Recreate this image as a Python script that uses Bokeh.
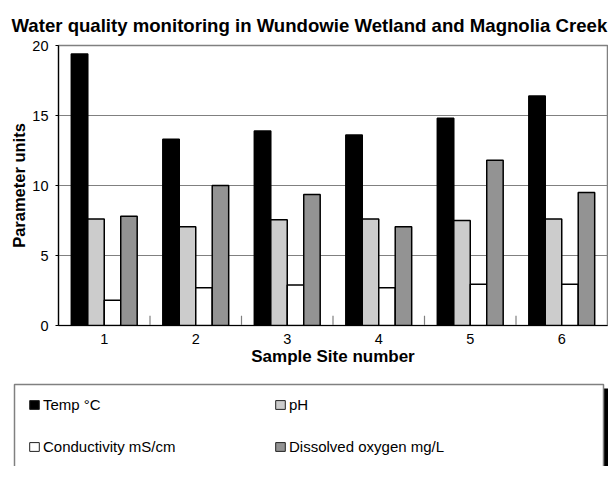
from bokeh.plotting import figure
from bokeh.models import (FactorRange, Range1d, FixedTicker, ColumnDataSource,
                          Legend, LegendItem)
from bokeh.transform import dodge
from bokeh.layouts import column, row
from bokeh.embed import file_html
from bokeh.resources import INLINE

# ---- data ----
sites = ["1", "2", "3", "4", "5", "6"]
temp = [19.4, 13.3, 13.9, 13.6, 14.8, 16.4]
ph = [7.6, 7.05, 7.55, 7.6, 7.5, 7.6]
cond = [1.8, 2.7, 2.9, 2.7, 2.95, 2.95]
dissolved_o2 = [7.8, 10.0, 9.35, 7.05, 11.8, 9.5]
series_names = ["Temp °C", "pH", "Conductivity mS/cm", "Dissolved oxygen mg/L"]
y_ticks = [0, 5, 10, 15, 20]
title_text = "Water quality monitoring in Wundowie Wetland and Magnolia Creek"
x_title = "Sample Site number"
y_title = "Parameter units"

FONT = "Liberation Sans"
colors = ["#000000", "#cccccc", "#ffffff", "#939393"]
offsets = [-0.27, -0.09, 0.09, 0.27]
bar_w = 0.18
W = 608

src = ColumnDataSource(dict(site=sites, temp=temp, ph=ph, cond=cond, do=dissolved_o2))
cols = ["temp", "ph", "cond", "do"]

p = figure(width=W, height=378, x_range=FactorRange(*sites), y_range=Range1d(0, 20),
           output_backend="svg", toolbar_location=None,
           min_border_left=58, min_border_right=1, min_border_top=45, min_border_bottom=53)
p.x_range.range_padding = 0

p.title.text = title_text
p.title.text_font = FONT
p.title.text_font_size = "18.6px"
p.title.text_font_style = "bold"
p.title.text_color = "black"
p.title.align = "left"
p.title.offset = -47
p.title.standoff = 20

for c, col, off in zip(colors, cols, offsets):
    p.vbar(x=dodge("site", off, range=p.x_range), top=col, width=bar_w, source=src,
           fill_color=c, line_color="black", line_width=1.5)

# small separators between site groups on the baseline
bounds = list(range(1, len(sites)))
p.segment(x0=bounds, y0=[0] * len(bounds), x1=bounds, y1=[0.7] * len(bounds),
          line_color="#808080", line_width=1.2)

p.outline_line_color = "#808080"
p.outline_line_width = 1.5
p.xgrid.grid_line_color = None
p.ygrid.grid_line_color = "#808080"
p.ygrid.grid_line_width = 1.2
p.yaxis.ticker = FixedTicker(ticks=y_ticks)

for ax in (p.xaxis[0], p.yaxis[0]):
    ax.axis_line_color = "black"
    ax.axis_line_width = 1.2
    ax.minor_tick_line_color = None
    ax.major_label_text_font = FONT
    ax.major_label_text_font_size = "14.5px"
    ax.major_label_text_color = "black"
    ax.axis_label_text_font = FONT
    ax.axis_label_text_font_style = "bold"
    ax.axis_label_text_color = "black"

p.xaxis.axis_label = x_title
p.xaxis.axis_label_text_font_size = "17px"
p.xaxis.major_tick_line_color = None
p.xaxis.major_tick_out = 0
p.xaxis.major_tick_in = 0
p.xaxis.major_label_standoff = 8
p.xaxis.axis_label_standoff = 0

p.yaxis.axis_label = y_title
p.yaxis.axis_label_text_font_size = "16.5px"
p.yaxis.major_tick_line_color = "black"
p.yaxis.major_tick_out = 3
p.yaxis.major_tick_in = 0
p.yaxis.major_label_standoff = 7
p.yaxis.axis_label_standoff = 1

# ---- legend panel ----
LH = 88
L = figure(width=W, height=LH, x_range=Range1d(0, W), y_range=Range1d(0, LH),
           output_backend="svg", toolbar_location=None,
           x_axis_location=None, y_axis_location=None,
           min_border=0, min_border_left=0, min_border_right=0,
           min_border_top=0, min_border_bottom=0)
L.outline_line_color = None
L.grid.grid_line_color = None
L.quad(left=[603], right=[608], top=[LH - 10], bottom=[-2], fill_color="black", line_color=None)
L.quad(left=[14], right=[603], top=[LH - 6], bottom=[-2], fill_color="white",
       line_color="#808080", line_width=1.5)

items = []
for name, c, vals in zip(series_names, colors, [temp, ph, cond, dissolved_o2]):
    r = L.vbar(x=list(range(len(vals))), top=vals, width=0.5, fill_color=c,
               line_color="#222222", line_width=1, visible=False)
    items.append(LegendItem(label=name, renderers=[r]))

leg = Legend(items=items, location=(28, 10), orientation="horizontal", ncols=2,
             glyph_width=12, glyph_height=11, label_standoff=3, label_width=209,
             label_height=20, spacing=22, padding=0, margin=0,
             border_line_color=None, background_fill_alpha=0,
             label_text_font=FONT, label_text_font_size="15px", label_text_color="black")
L.add_layout(leg, "center")

layout = column(p, row(L), spacing=0)
open("out.html", "w").write(file_html(layout, INLINE))
